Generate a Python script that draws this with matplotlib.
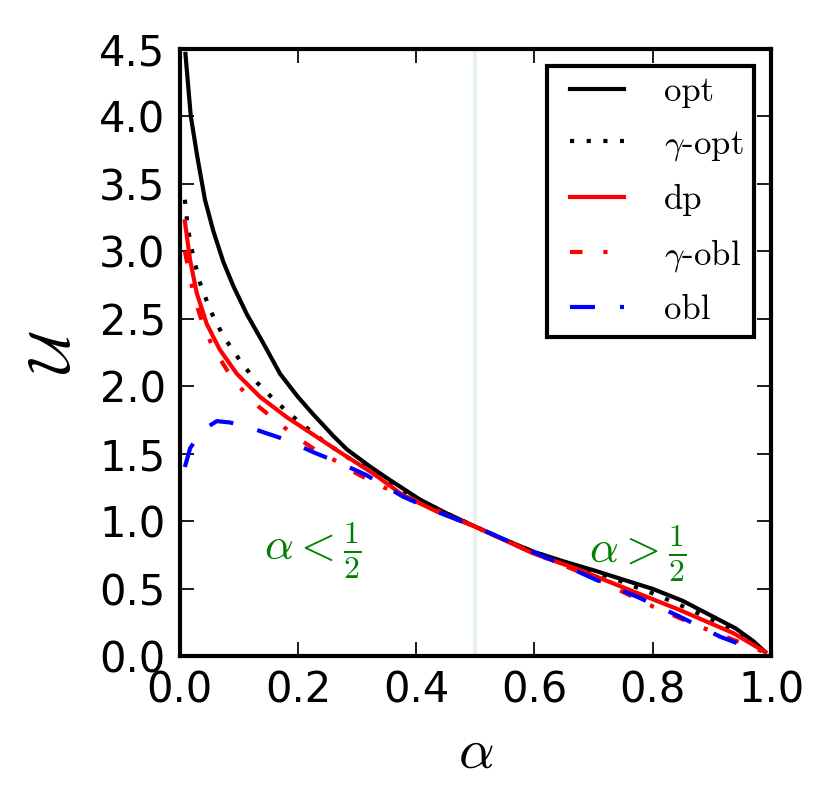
import matplotlib
matplotlib.use('Agg')
import matplotlib.pyplot as plt
from matplotlib.lines import Line2D
from matplotlib.legend_handler import HandlerLine2D

'''
Utility U as a function of alpha for the five strategies
'''

# values
opt_x = [0.010, 0.019, 0.030, 0.043, 0.057, 0.074, 0.091, 0.114, 0.140, 0.170,
         0.200, 0.226, 0.260, 0.283, 0.320, 0.350, 0.406, 0.45, 0.50, 0.55,
         0.60, 0.65, 0.70, 0.75, 0.80, 0.85, 0.90, 0.94, 0.97, 0.99]
opt_y = [4.46, 4.00, 3.70, 3.38, 3.15, 2.92, 2.74, 2.53, 2.33, 2.09,
         1.92, 1.79, 1.63, 1.53, 1.41, 1.32, 1.16, 1.06, 0.958, 0.86,
         0.77, 0.70, 0.635, 0.566, 0.497, 0.41, 0.296, 0.205, 0.11, 0.03]

gopt_x = [0.009, 0.014, 0.023, 0.035, 0.052, 0.074, 0.102, 0.130, 0.164, 0.198,
          0.238, 0.277, 0.316, 0.345, 0.40, 0.45, 0.50, 0.55, 0.60, 0.65,
          0.70, 0.733, 0.80, 0.846, 0.90, 0.95, 0.99]
gopt_y = [3.38, 3.17, 2.96, 2.76, 2.56, 2.37, 2.19, 2.03, 1.88, 1.75,
          1.61, 1.49, 1.39, 1.30, 1.17, 1.06, 0.958, 0.86, 0.77, 0.695,
          0.625, 0.575, 0.464, 0.378, 0.27, 0.155, 0.03]

dp_x = [0.009, 0.018, 0.029, 0.046, 0.068, 0.097, 0.136, 0.181, 0.226, 0.271,
        0.328, 0.378, 0.435, 0.50, 0.598, 0.677, 0.733, 0.846, 0.936, 0.99]
dp_y = [3.22, 2.93, 2.69, 2.46, 2.27, 2.09, 1.92, 1.77, 1.64, 1.51,
        1.35, 1.19, 1.07, 0.958, 0.76, 0.637, 0.538, 0.34, 0.17, 0.03]

gobl_x = [0.009, 0.018, 0.026, 0.040, 0.057, 0.080, 0.102, 0.133, 0.164, 0.198,
          0.232, 0.271, 0.30, 0.345, 0.40, 0.45, 0.50, 0.60, 0.70, 0.801,
          0.877, 0.959, 0.99]
gobl_y = [3.00, 2.80, 2.64, 2.45, 2.28, 2.12, 1.99, 1.85, 1.74, 1.62,
          1.52, 1.43, 1.35, 1.25, 1.15, 1.05, 0.958, 0.76, 0.58, 0.365,
          0.222, 0.081, 0.025]

obl_x = [0.009, 0.018, 0.038, 0.063, 0.085, 0.114, 0.147, 0.181, 0.226, 0.271,
         0.316, 0.378, 0.435, 0.50, 0.564, 0.649, 0.705, 0.773, 0.846, 0.914,
         0.981]
obl_y = [1.40, 1.54, 1.67, 1.74, 1.73, 1.70, 1.65, 1.60, 1.51, 1.43,
         1.34, 1.18, 1.07, 0.958, 0.835, 0.674, 0.563, 0.44, 0.291, 0.143,
         0.032]

plt.rcParams['mathtext.fontset'] = 'cm'
plt.rcParams['font.size'] = 12
plt.rcParams['axes.linewidth'] = 1.2
plt.rcParams['xtick.direction'] = 'in'
plt.rcParams['ytick.direction'] = 'in'
plt.rcParams['xtick.top'] = True
plt.rcParams['ytick.right'] = True
plt.rcParams['xtick.major.size'] = 4
plt.rcParams['ytick.major.size'] = 4
plt.rcParams['xtick.major.width'] = 0.5
plt.rcParams['ytick.major.width'] = 0.5
plt.rcParams['xtick.major.pad'] = 4
plt.rcParams['ytick.major.pad'] = 4

fig = plt.figure(figsize=(3.32, 3.24), dpi=250)
ax = fig.add_axes([0.2163, 0.1901, 0.7127, 0.75])

lw = 1.2
ax.axvline(0.5, color='green', alpha=0.1, lw=1.2)
ax.plot(opt_x, opt_y, color='k', lw=lw, label='opt')
ax.plot(gopt_x, gopt_y, color='k', lw=lw, dashes=(1, 3), label=r'$\gamma$-opt')
ax.plot(dp_x, dp_y, color='r', lw=lw, label='dp')
ax.plot(gobl_x, gobl_y, color='r', lw=lw, dashes=(3, 5, 1, 5), label=r'$\gamma$-obl')
ax.plot(obl_x, obl_y, color='b', lw=lw, dashes=(6, 6), label='obl')

ax.text(0.225, 0.78, r'$\alpha < \frac{1}{2}$', color='green', fontsize=13,
        ha='center', va='center')
ax.text(0.775, 0.76, r'$\alpha > \frac{1}{2}$', color='green', fontsize=13,
        ha='center', va='center')

ax.set_xlim(0, 1)
ax.set_ylim(0, 4.5)
ax.set_xticks([0.0, 0.2, 0.4, 0.6, 0.8, 1.0])
ax.set_yticks([0.0, 0.5, 1.0, 1.5, 2.0, 2.5, 3.0, 3.5, 4.0, 4.5])
ax.set_xlabel(r'$\alpha$', fontsize=16, labelpad=4)
ax.set_ylabel(r'$\mathcal{U}$', fontsize=17, labelpad=5)

# xpad pushes the legend lines a bit right of the frame
leg = ax.legend(loc='upper right', prop={'family': 'cmr10', 'size': 10},
                handlelength=1.9, handletextpad=1.15, borderpad=0.3,
                labelspacing=0.6, borderaxespad=0.5, fancybox=False,
                framealpha=1, handler_map={Line2D: HandlerLine2D(xpad=0.35)})
leg.get_frame().set_edgecolor('k')
leg.get_frame().set_linewidth(1.2)

fig.savefig('out.png', dpi=250)
